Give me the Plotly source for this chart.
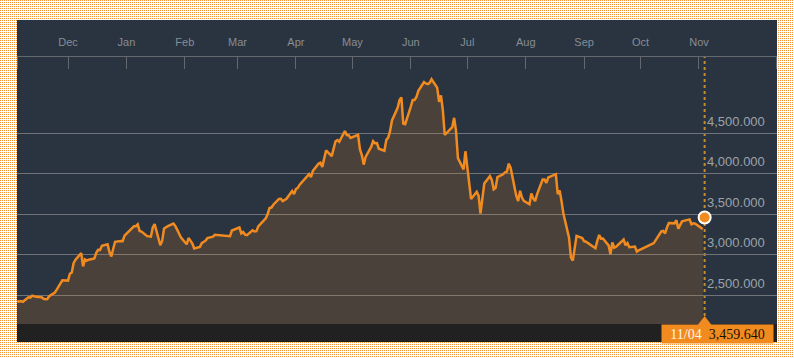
import base64, struct, zlib
import plotly.graph_objects as go

# ---------------- data ----------------
trade_dates = [
    "2014-11-04","2014-11-05","2014-11-06","2014-11-07","2014-11-10","2014-11-11","2014-11-12","2014-11-13","2014-11-14",
    "2014-11-17","2014-11-18","2014-11-19","2014-11-20","2014-11-21","2014-11-24","2014-11-25","2014-11-26","2014-11-27","2014-11-28",
    "2014-12-01","2014-12-02","2014-12-03","2014-12-04","2014-12-05","2014-12-08","2014-12-09","2014-12-10","2014-12-11","2014-12-12",
    "2014-12-15","2014-12-16","2014-12-17","2014-12-18","2014-12-19","2014-12-22","2014-12-23","2014-12-24","2014-12-25","2014-12-26",
    "2014-12-29","2014-12-30","2014-12-31",
    "2015-01-05","2015-01-06","2015-01-07","2015-01-08","2015-01-09","2015-01-12","2015-01-13","2015-01-14","2015-01-15","2015-01-16",
    "2015-01-19","2015-01-20","2015-01-21","2015-01-22","2015-01-23","2015-01-26","2015-01-27","2015-01-28","2015-01-29","2015-01-30",
    "2015-02-02","2015-02-03","2015-02-04","2015-02-05","2015-02-06","2015-02-09","2015-02-10","2015-02-11","2015-02-12","2015-02-13",
    "2015-02-16","2015-02-17","2015-02-25","2015-02-26","2015-02-27",
    "2015-03-02","2015-03-03","2015-03-04","2015-03-05","2015-03-06","2015-03-09","2015-03-10","2015-03-11","2015-03-12","2015-03-13",
    "2015-03-16","2015-03-17","2015-03-18","2015-03-19","2015-03-20","2015-03-23","2015-03-24","2015-03-25","2015-03-26","2015-03-27",
    "2015-03-30","2015-03-31",
    "2015-04-01","2015-04-02","2015-04-03","2015-04-07","2015-04-08","2015-04-09","2015-04-10","2015-04-13","2015-04-14","2015-04-15",
    "2015-04-16","2015-04-17","2015-04-20","2015-04-21","2015-04-22","2015-04-23","2015-04-24","2015-04-27","2015-04-28","2015-04-29",
    "2015-04-30",
    "2015-05-04","2015-05-05","2015-05-06","2015-05-07","2015-05-08","2015-05-11","2015-05-12","2015-05-13","2015-05-14","2015-05-15",
    "2015-05-18","2015-05-19","2015-05-20","2015-05-21","2015-05-22","2015-05-25","2015-05-26","2015-05-27","2015-05-28","2015-05-29",
    "2015-06-01","2015-06-02","2015-06-03","2015-06-04","2015-06-05","2015-06-08","2015-06-09","2015-06-10","2015-06-11","2015-06-12",
    "2015-06-15","2015-06-16","2015-06-17","2015-06-18","2015-06-19","2015-06-23","2015-06-24","2015-06-25","2015-06-26","2015-06-29",
    "2015-06-30",
    "2015-07-01","2015-07-02","2015-07-03","2015-07-06","2015-07-07","2015-07-08","2015-07-09","2015-07-10","2015-07-13","2015-07-14",
    "2015-07-15","2015-07-16","2015-07-17","2015-07-20","2015-07-21","2015-07-22","2015-07-23","2015-07-24","2015-07-27","2015-07-28",
    "2015-07-29","2015-07-30","2015-07-31",
    "2015-08-03","2015-08-04","2015-08-05","2015-08-06","2015-08-07","2015-08-10","2015-08-11","2015-08-12","2015-08-13","2015-08-14",
    "2015-08-17","2015-08-18","2015-08-19","2015-08-20","2015-08-21","2015-08-24","2015-08-25","2015-08-26","2015-08-27","2015-08-28",
    "2015-08-31",
    "2015-09-01","2015-09-02","2015-09-07","2015-09-08","2015-09-09","2015-09-10","2015-09-11","2015-09-14","2015-09-15","2015-09-16",
    "2015-09-17","2015-09-18","2015-09-21","2015-09-22","2015-09-23","2015-09-24","2015-09-25","2015-09-28","2015-09-29","2015-09-30",
    "2015-10-08","2015-10-09","2015-10-12","2015-10-13","2015-10-14","2015-10-15","2015-10-16","2015-10-19","2015-10-20","2015-10-21",
    "2015-10-22","2015-10-23","2015-10-26","2015-10-27","2015-10-28","2015-10-29","2015-10-30",
    "2015-11-02","2015-11-03",
]
close_values = [
    2430, 2419, 2426, 2418, 2474, 2470, 2494, 2486, 2479,
    2474, 2456, 2451, 2453, 2487, 2533, 2568, 2604, 2630, 2683,
    2680, 2764, 2780, 2899, 2938, 3020, 2856, 2940, 2926, 2938,
    2953, 3022, 3061, 3058, 3109, 3127, 3033, 2977, 3073, 3158,
    3168, 3166, 3235,
    3351, 3351, 3374, 3293, 3285, 3229, 3224, 3222, 3336, 3377,
    3116, 3173, 3324, 3343, 3352, 3383, 3353, 3306, 3262, 3210,
    3128, 3205, 3174, 3137, 3076, 3095, 3142, 3158, 3173, 3204,
    3222, 3247, 3229, 3298, 3310,
    3336, 3263, 3280, 3248, 3241, 3302, 3286, 3291, 3349, 3373,
    3449, 3503, 3577, 3582, 3617, 3688, 3691, 3661, 3682, 3691,
    3787, 3748,
    3810, 3826, 3864, 3961, 3995, 3958, 4034, 4122, 4136, 4084,
    4195, 4287, 4217, 4294, 4398, 4415, 4394, 4527, 4477, 4476,
    4442,
    4480, 4299, 4229, 4112, 4206, 4334, 4401, 4376, 4378, 4309,
    4283, 4418, 4446, 4529, 4658, 4814, 4911, 4942, 4620, 4612,
    4829, 4911, 4910, 4947, 5023, 5132, 5114, 5106, 5122, 5166,
    5063, 4887, 4968, 4785, 4478, 4576, 4690, 4528, 4193, 4053,
    4277,
    4054, 3913, 3687, 3776, 3727, 3507, 3709, 3878, 3970, 3924,
    3806, 3823, 3957, 3992, 4018, 4026, 4124, 4071, 3726, 3663,
    3789, 3706, 3664,
    3623, 3757, 3695, 3662, 3744, 3928, 3928, 3886, 3955, 3965,
    3994, 3748, 3794, 3664, 3508, 3210, 2965, 2927, 3084, 3232,
    3206,
    3167, 3160, 3080, 3170, 3243, 3198, 3200, 3115, 3005, 3152,
    3086, 3098, 3157, 3186, 3116, 3143, 3092, 3101, 3038, 3053,
    3143, 3183, 3288, 3293, 3262, 3338, 3391, 3387, 3425, 3321,
    3369, 3412, 3430, 3434, 3375, 3387, 3383,
    3325, 3317,
]
marker_date = "2015-11-04"
marker_label = "11/04"
marker_value = 3459.640

month_ticks = ["2014-12-01","2015-01-01","2015-02-01","2015-03-01","2015-04-01","2015-05-01",
               "2015-06-01","2015-07-01","2015-08-01","2015-09-01","2015-10-01","2015-11-01"]
month_labels = ["Dec","Jan","Feb","Mar","Apr","May","Jun","Jul","Aug","Sep","Oct","Nov"]
y_ticks = [2500, 3000, 3500, 4000, 4500]

x_range = ["2014-11-03 22:00", "2015-12-12 10:00"]
y_range = [2144, 5441]

# ---------------- style ----------------
W, H = 794, 358
ML, MR, MT, MB = 17, 17, 57, 34
PW, PH = W - ML - MR, H - MT - MB
NAVY = "#2a3440"
ORANGE = "#f28b1f"
AXIS_GREY = "#63686e"
GRID_GREY = "#6e737a"


def dot_pattern_png(w, h):
    dot = bytes((242, 146, 52))
    white = bytes((255, 255, 255))
    row_a = b"".join(dot if x % 2 == 0 else white for x in range(w))
    row_b = white * w
    raw = b"".join(b"\x00" + (row_a if y % 2 == 0 else row_b) for y in range(h))

    def chunk(t, d):
        return struct.pack(">I", len(d)) + t + d + struct.pack(">I", zlib.crc32(t + d) & 0xffffffff)

    png = (b"\x89PNG\r\n\x1a\n"
           + chunk(b"IHDR", struct.pack(">IIBBBBB", w, h, 8, 2, 0, 0, 0))
           + chunk(b"IDAT", zlib.compress(raw, 9))
           + chunk(b"IEND", b""))
    return "data:image/png;base64," + base64.b64encode(png).decode()


fig = go.Figure()

fig.add_trace(go.Scatter(
    x=trade_dates, y=close_values, mode="lines",
    line=dict(color=ORANGE, width=2.5),
    fill="tozeroy", fillcolor="rgba(240,137,30,0.16)",
    hoverinfo="skip", showlegend=False,
))
# little pointer triangle above the date box
fig.add_trace(go.Scatter(
    x=[marker_date], y=[y_range[0]], mode="markers",
    marker=dict(symbol="triangle-up", size=16, color=ORANGE, line=dict(width=0)),
    cliponaxis=False, hoverinfo="skip", showlegend=False,
))
fig.add_trace(go.Scatter(
    x=[marker_date], y=[marker_value], mode="markers",
    marker=dict(size=12, color=ORANGE, line=dict(color="white", width=2)),
    cliponaxis=False, hoverinfo="skip", showlegend=False,
))

shapes = [
    # dark chart panel
    dict(type="rect", xref="paper", yref="paper", x0=0, x1=1, y0=0, y1=1 + 37 / PH,
         fillcolor=NAVY, line=dict(width=0), layer="below"),
    # bottom dark strip
    dict(type="rect", xref="paper", yref="paper", x0=0, x1=1, y0=-18 / PH, y1=0,
         fillcolor="#212121", line=dict(width=0), layer="below"),
    # edge ticks
    dict(type="line", xref="paper", yref="paper", x0=0.5 / PW, x1=0.5 / PW, y0=1, y1=1 - 12 / PH,
         line=dict(color=AXIS_GREY, width=1), layer="above"),
    dict(type="line", xref="paper", yref="paper", x0=1 - 0.5 / PW, x1=1 - 0.5 / PW, y0=1, y1=1 - 12 / PH,
         line=dict(color=AXIS_GREY, width=1), layer="above"),
    # dotted current-date line
    dict(type="line", xref="x", yref="paper", x0=marker_date, x1=marker_date, y0=8 / PH, y1=1,
         line=dict(color="#c48c2c", width=2, dash="dot"), layer="between"),
]

annotations = []
for v in y_ticks:
    annotations.append(dict(
        xref="paper", yref="y", x=1, y=v, xanchor="right", yanchor="middle",
        xshift=-10, yshift=12, showarrow=False, text=f"{v:,.3f}",
        font=dict(family="Liberation Sans, Arial, sans-serif", size=13, color="#9ca2a8"),
    ))
annotations.append(dict(
    xref="x", yref="paper", x=marker_date, y=0, xanchor="left", yanchor="top",
    xshift=-44, showarrow=False, width=111, height=18, borderpad=0,
    bgcolor=ORANGE, align="center",
    text=f"<span style='color:#fff6ea'>{marker_label}</span>&nbsp;&nbsp;{marker_value:,.3f}",
    font=dict(family="Liberation Serif, Times New Roman, serif", size=14, color="#1a1208"),
))

fig.update_layout(
    width=W, height=H,
    margin=dict(l=ML, r=MR, t=MT, b=MB, pad=0),
    paper_bgcolor="white", plot_bgcolor=NAVY,
    showlegend=False,
    hovermode=False,
    xaxis=dict(
        type="date", range=x_range, side="top",
        tickvals=month_ticks, ticktext=month_labels,
        ticks="inside", ticklen=12, tickwidth=1, tickcolor=AXIS_GREY,
        showline=True, linecolor=AXIS_GREY, linewidth=1,
        showgrid=False, zeroline=False,
        tickfont=dict(family="Liberation Sans, Arial, sans-serif", size=11, color="#878d94"),
        ticklabelstandoff=6,
    ),
    yaxis=dict(
        range=y_range, tickvals=y_ticks, showticklabels=False,
        showgrid=True, gridcolor=GRID_GREY, gridwidth=1,
        zeroline=False, showline=False, ticks="",
    ),
    shapes=shapes,
    annotations=annotations,
    images=[dict(
        source=dot_pattern_png(W, H), xref="paper", yref="paper",
        x=-ML / PW, y=1 + MT / PH, sizex=W / PW, sizey=H / PH,
        xanchor="left", yanchor="top", sizing="stretch", layer="below",
    )],
)

fig.write_html(
    "out.html",
    config={"displayModeBar": False, "staticPlot": True},
    post_script="document.body.style.margin='0';document.body.style.overflow='hidden';",
)
